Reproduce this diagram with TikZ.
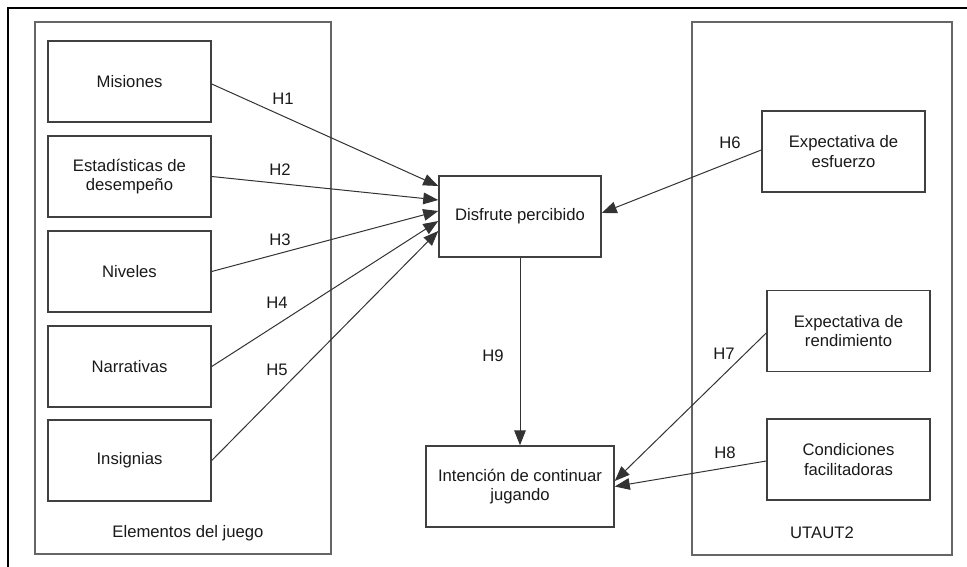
\documentclass[tikz,border=0pt]{standalone}
\usepackage{fontspec}
\setmainfont{Liberation Sans}
\usetikzlibrary{arrows.meta}
\begin{document}
\begin{tikzpicture}[x=0.6pt,y=-0.6pt,
  every node/.style={font=\fontsize{10}{11.6}\selectfont, text=black!90},
  box/.style={draw=black!75, line width=0.9pt, rectangle, inner sep=0pt, align=center, minimum height=48.6pt},
  grp/.style={draw=black!60, line width=1pt, rectangle, inner sep=0pt},
  conn/.style={draw=black!80, line width=0.6pt, -{Triangle[length=9pt,width=7pt]}},
  lbl/.style={inner sep=0pt}]
\useasboundingbox (0,0) rectangle (967,567);
\draw[black, line width=0.9pt] (967,8) -- (8,8) -- (8,567);
% group boxes
\node[grp, minimum width=177.6pt, minimum height=319.2pt] (g1) at (183,288) {};
\node[grp, minimum width=156pt, minimum height=319.8pt] (g2) at (822,288.5) {};
\node[lbl] (g1l) at (188,533) {Elementos del juego};
\node[lbl] (g2l) at (822,533) {UTAUT2};
% left boxes
\node[box, minimum width=97.8pt] (mis) at (129.5,81.5) {Misiones};
\node[box, minimum width=97.8pt] (est) at (129.5,176.5) {Estadísticas de\\desempeño};
\node[box, minimum width=97.8pt] (niv) at (129.5,271.5) {Niveles};
\node[box, minimum width=97.8pt] (nar) at (129.5,366.5) {Narrativas};
\node[box, minimum width=97.8pt] (ins) at (129.5,460.5) {Insignias};
% middle
\node[box, minimum width=97.2pt] (dis) at (520,216.5) {Disfrute percibido};
\node[box, minimum width=112.8pt] (int) at (520,486.5) {Intención de continuar\\jugando};
% right
\node[box, minimum width=97.8pt] (esf) at (843.5,151.5) {Expectativa de\\esfuerzo};
\node[box, minimum width=97.8pt] (ren) at (848.5,331) {Expectativa de\\rendimiento};
\node[box, minimum width=97.8pt] (con) at (848.5,459.5) {Condiciones\\facilitadoras};
% connectors
\draw[conn] ([yshift=-1.5pt]mis.east) -- ([yshift=18.3pt]dis.west);
\draw[conn] (est.east) -- ([yshift=9.9pt]dis.west);
\draw[conn] (niv.east) -- ([yshift=3.3pt]dis.west);
\draw[conn] (nar.east) -- ([yshift=-2.7pt]dis.west);
\draw[conn] (ins.east) -- ([yshift=-8.7pt]dis.west);
\draw[conn] ([yshift=0.9pt]esf.west) -- ([yshift=2.1pt]dis.east);
\draw[conn] ([yshift=-1.2pt]ren.west) -- ([yshift=3.3pt]int.east);
\draw[conn] ([yshift=-0.9pt]con.west) -- (int.east);
\draw[conn] (dis.south) -- (int.north);
% labels
\node[lbl] (h1) at (283,99) {H1};
\node[lbl] (h2) at (280,170) {H2};
\node[lbl] (h3) at (280,240) {H3};
\node[lbl] (h4) at (277,303) {H4};
\node[lbl] (h5) at (277,370) {H5};
\node[lbl] (h6) at (730,143) {H6};
\node[lbl] (h7) at (724,354) {H7};
\node[lbl] (h8) at (725,453) {H8};
\node[lbl] (h9) at (493,356) {H9};
\end{tikzpicture}
\end{document}
